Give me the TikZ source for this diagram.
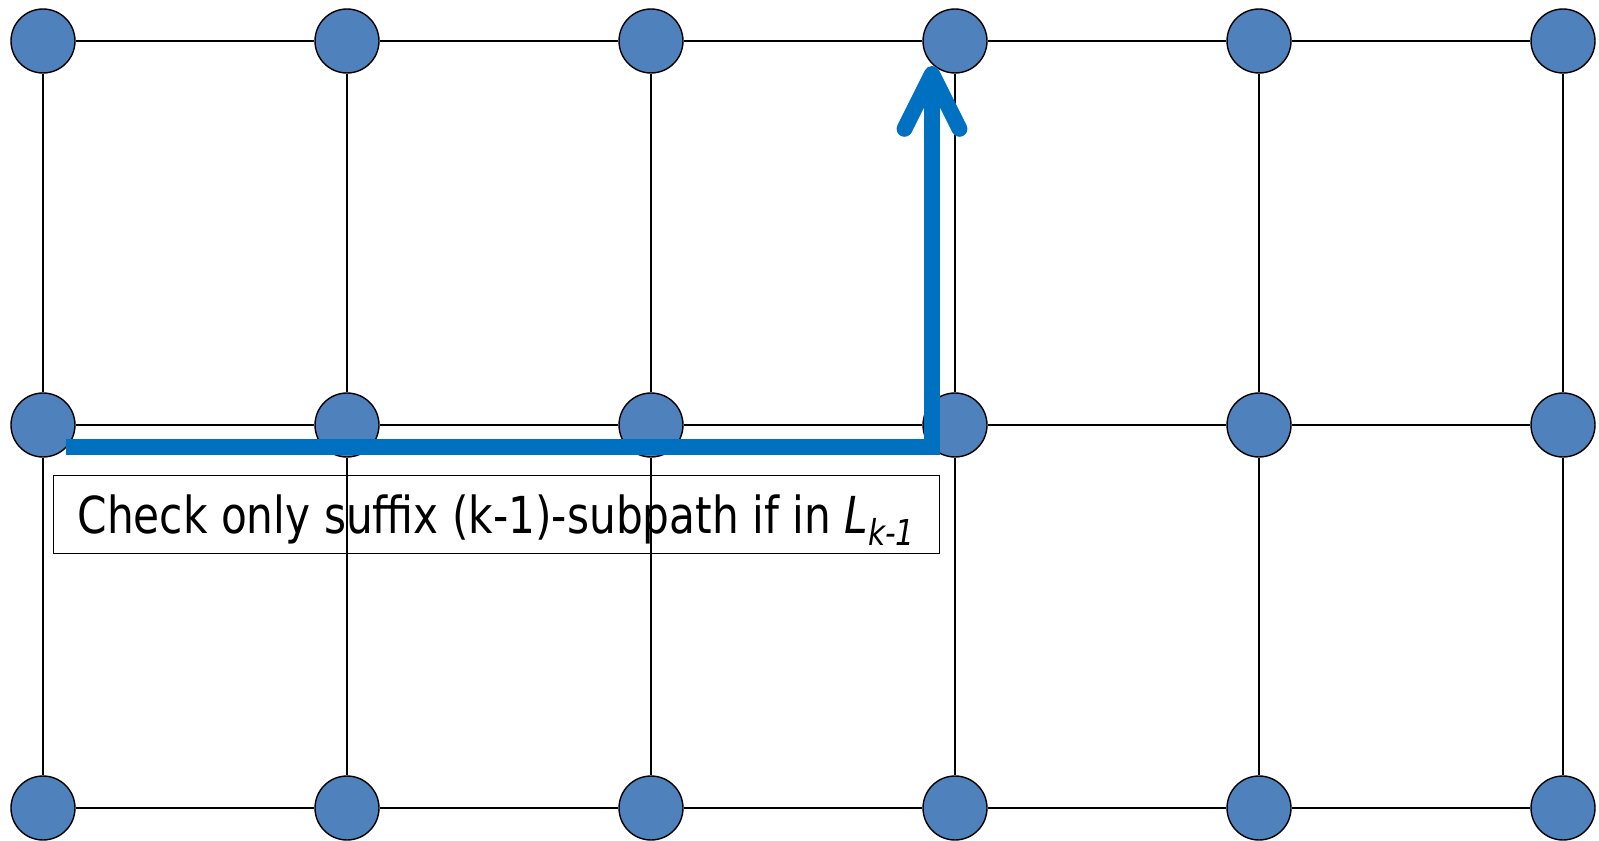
\documentclass[tikz,border=0pt]{standalone}
\usepackage{fontspec}
\setmainfont{DejaVu Sans}[FakeStretch=0.83]
\usetikzlibrary{arrows.meta}
\definecolor{nodeblue}{HTML}{4F81BD}
\definecolor{pathblue}{HTML}{0070C0}
\tikzset{
	gridnode/.style={
			circle,
			draw=black,
			line width=0.8pt,
			fill=nodeblue,
			minimum size=1.28cm,
			inner sep=0pt
		},
	gridedge/.style={
			draw=black,
			line width=0.75pt
		},
	pathline/.style={
			draw=pathblue,
			line width=9pt
		},
	labelbox/.style={
			shape=rectangle,
			draw=black,
			line width=0.8pt,
			minimum width=17.72cm,
			minimum height=1.56cm,
			inner sep=0pt,
			text height=1.06cm,
			text depth=0.3cm,
			font=\fontsize{29}{34}\selectfont
		}
}

\begin{document}
\begin{tikzpicture}[x=0.02cm, y=-0.02cm]
				\useasboundingbox (0,0) rectangle (1599,841);

				\node[gridnode] (v11) at (43,41) {};
				\node[gridnode] (v12) at (347,41) {};
				\node[gridnode] (v13) at (651,41) {};
				\node[gridnode] (v14) at (955,41) {};
				\node[gridnode] (v15) at (1259,41) {};
				\node[gridnode] (v16) at (1563,41) {};

				\node[gridnode] (v21) at (43,425) {};
				\node[gridnode] (v22) at (347,425) {};
				\node[gridnode] (v23) at (651,425) {};
				\node[gridnode] (v24) at (955,425) {};
				\node[gridnode] (v25) at (1259,425) {};
				\node[gridnode] (v26) at (1563,425) {};

				\node[gridnode] (v31) at (43,808) {};
				\node[gridnode] (v32) at (347,808) {};
				\node[gridnode] (v33) at (651,808) {};
				\node[gridnode] (v34) at (955,808) {};
				\node[gridnode] (v35) at (1259,808) {};
				\node[gridnode] (v36) at (1563,808) {};

				\foreach \r in {1,2,3}
					\foreach \c/\n in {1/2,2/3,3/4,4/5,5/6}
						\draw[gridedge] (v\r\c) -- (v\r\n);
				\foreach \c in {1,...,6}
					\foreach \r/\s in {1/2,2/3}
						\draw[gridedge] (v\r\c) -- (v\s\c);

				\node[labelbox, anchor=north west] (note) at (53,475)
					{Check only suffix (k-1)-subpath if in \textit{L}\textsubscript{\textit{k-1}}};

				\coordinate (pstart) at (66,447);
				\coordinate (pturn) at (932,447);
				\coordinate (ptip) at (932,66);
				\draw[pathline, -{Straight Barb[round, length=1.1cm, width=1.1cm]}]
					(pstart) -- (pturn) -- (ptip);

			\end{tikzpicture}
\end{document}
